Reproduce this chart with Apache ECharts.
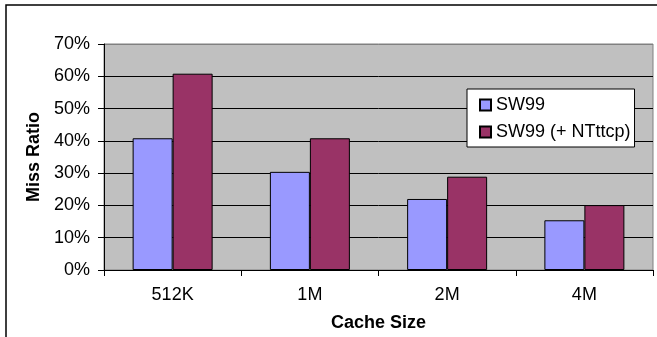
<!DOCTYPE html>
<html>
<head>
<meta charset="utf-8">
<script src="https://cdn.jsdelivr.net/npm/echarts@6/dist/echarts.min.js"></script>
<style>
  html, body { margin: 0; padding: 0; background: #fff; }
  #chart { width: 657px; height: 337px; }
</style>
</head>
<body>
<div id="chart"></div>
<script>
// Cache miss ratio by cache size
const categories = ['512K', '1M', '2M', '4M'];
const seriesNames = ['SW99', 'SW99 (+ NTttcp)'];
const sw99 = [40.8, 30.4, 22.0, 15.4];
const sw99Nttcp = [60.8, 40.8, 28.9, 20.1];
const yTicks = [0, 10, 20, 30, 40, 50, 60, 70];

const FONT = '"Liberation Sans", Arial, sans-serif';

const chart = echarts.init(document.getElementById('chart'), null, { renderer: 'canvas' });

chart.setOption({
  animation: false,
  backgroundColor: '#fff',
  textStyle: { fontFamily: FONT, color: '#000' },
  graphic: [{
    type: 'rect',
    shape: { x: 6, y: 5, width: 700, height: 400 },
    style: { fill: 'none', stroke: '#000', lineWidth: 1.5 },
    z: 100
  }],
  grid: {
    left: 104, right: 4, top: 44, bottom: 66,
    show: true,
    backgroundColor: '#C0C0C0',
    borderColor: '#808080',
    borderWidth: 1
  },
  legend: {
    orient: 'vertical',
    left: 467, top: 89,
    data: seriesNames,
    backgroundColor: '#fff',
    borderColor: '#000',
    borderWidth: 1,
    padding: [7, 4, 6, 12],
    itemWidth: 11, itemHeight: 11,
    itemGap: 9,
    icon: 'rect',
    textStyle: { fontFamily: FONT, fontSize: 18, color: '#000' }
  },
  xAxis: {
    type: 'category',
    data: categories,
    name: 'Cache Size',
    nameLocation: 'middle',
    nameGap: 44,
    nameTextStyle: { fontFamily: FONT, fontSize: 18, fontWeight: 'bold', color: '#000' },
    axisLine: { lineStyle: { color: '#000', width: 1 } },
    axisTick: { show: true, length: 6, lineStyle: { color: '#000' } },
    axisLabel: { fontFamily: FONT, fontSize: 18, color: '#000', margin: 16 },
    splitLine: { show: false }
  },
  yAxis: {
    type: 'value',
    min: yTicks[0],
    max: yTicks[yTicks.length - 1],
    interval: 10,
    name: 'Miss Ratio',
    nameLocation: 'middle',
    nameGap: 60,
    nameTextStyle: { fontFamily: FONT, fontSize: 18, fontWeight: 'bold', color: '#000' },
    axisLine: { show: true, lineStyle: { color: '#000', width: 1 } },
    axisTick: { show: true, length: 6, lineStyle: { color: '#000' } },
    axisLabel: { fontFamily: FONT, fontSize: 18, color: '#000', margin: 14, formatter: '{value}%' },
    splitLine: {
      show: true,
      lineStyle: { color: ['#000', '#000', '#000', '#000', '#000', '#000', '#000', '#808080'], width: 1 }
    }
  },
  series: [
    {
      name: seriesNames[0],
      type: 'bar',
      data: sw99,
      barWidth: 40,
      barGap: '0%',
      itemStyle: { color: '#9999FF', borderColor: '#000', borderWidth: 1 }
    },
    {
      name: seriesNames[1],
      type: 'bar',
      data: sw99Nttcp,
      barWidth: 40,
      barGap: '0%',
      itemStyle: { color: '#993366', borderColor: '#000', borderWidth: 1 }
    }
  ]
});
</script>
</body>
</html>
